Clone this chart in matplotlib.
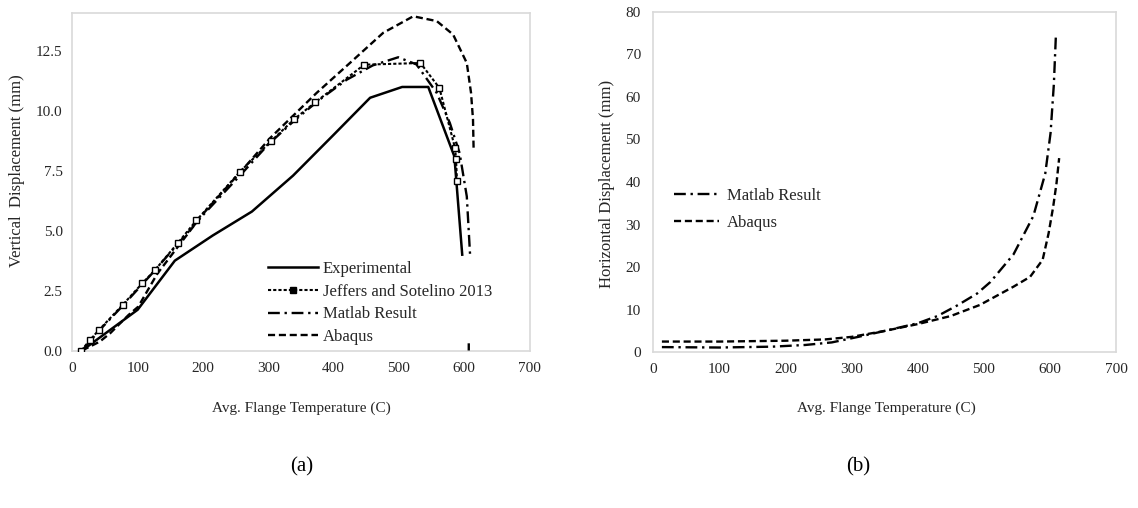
import matplotlib
matplotlib.use("Agg")
import matplotlib.pyplot as plt
from matplotlib.lines import Line2D
import numpy as np

plt.rcParams['font.family'] = ['Liberation Serif', 'DejaVu Serif']

# ---------------- data: (a) vertical displacement ----------------
exp_T = [15, 100, 157, 215, 275, 338, 400, 456, 505, 545, 585, 597]
exp_V = [0.0, 1.7, 3.75, 4.8, 5.8, 7.3, 9.0, 10.55, 11.0, 11.0, 8.1, 4.0]

jef_T = [14, 27, 41, 77, 107, 126, 162, 190, 257, 304, 340, 372, 447, 533, 562, 586, 587.5, 589]
jef_V = [0.0, 0.44, 0.86, 1.9, 2.8, 3.34, 4.5, 5.43, 7.47, 8.73, 9.66, 10.36, 11.93, 12.0, 10.96, 8.45, 8.0, 7.06]

mat_T = [15, 40, 80, 120, 160, 200, 260, 300, 340, 380, 420, 460, 499, 527, 558, 578, 593, 604, 609, np.nan, 607, 607]
mat_V = [0.0, 0.8, 1.95, 3.15, 4.4, 5.65, 7.4, 8.6, 9.6, 10.5, 11.3, 11.9, 12.24, 11.94, 10.75, 9.5, 8.24, 6.43, 4.0, np.nan, 0.3, 0.0]

aba_T = [15, 42, 58, 86, 101, 130, 200, 272, 303, 374, 425, 476, 522, 558, 583, 604, 610.5, 613.5, 614.5]
aba_V = [0.0, 0.37, 0.72, 1.48, 1.83, 3.2, 5.7, 7.9, 8.87, 10.75, 12.0, 13.26, 13.95, 13.75, 13.19, 12.0, 10.75, 9.64, 8.31]

# ---------------- data: (b) horizontal displacement ----------------
matH_T = [13, 100, 180, 230, 270, 310, 350, 400, 430, 460, 490, 510, 545, 575, 593, 601, 606, 609]
matH_H = [1.2, 1.1, 1.3, 1.7, 2.3, 3.6, 5.0, 6.8, 8.5, 11.0, 13.8, 16.5, 23.0, 32.0, 42.0, 51.5, 63.0, 74.2]

abaH_T = [13, 100, 200, 260, 300, 350, 400, 450, 494, 545, 570, 589, 598, 605, 610, 614]
abaH_H = [2.5, 2.5, 2.7, 3.0, 3.6, 5.0, 6.6, 8.5, 11.1, 15.4, 17.7, 21.7, 27.9, 34.2, 39.7, 45.6]

left_xticks = [0, 100, 200, 300, 400, 500, 600, 700]
left_yticks = [0.0, 2.5, 5.0, 7.5, 10.0, 12.5]
right_yticks = [0, 10, 20, 30, 40, 50, 60, 70, 80]

# ---------------- styles ----------------
TXT = '#262626'
FRAME = '#d9d9d9'
DASH = (0, (3, 1.6))
DASHDOT = (0, (5, 2, 1, 2))
DOT = (0, (1.5, 1))

W, H = 1138, 508
fig = plt.figure(figsize=(W / 100, H / 100), dpi=100)

def style_axes(ax):
    for s in ax.spines.values():
        s.set_color(FRAME)
        s.set_linewidth(1.2)
    ax.tick_params(length=0, labelsize=11, labelcolor=TXT)
    ax.tick_params(axis='x', pad=8)
    ax.tick_params(axis='y', pad=7)

# (a)
axA = fig.add_axes([72.3 / W, 1 - 350.5 / H, (529.5 - 72.3) / W, (350.5 - 12.7) / H])
axA.plot(exp_T, exp_V, color='black', lw=1.8, ls='-', zorder=3)
axA.plot(mat_T, mat_V, color='black', lw=1.7, ls=DASHDOT, zorder=3)
axA.plot(aba_T, aba_V, color='black', lw=1.7, ls=DASH, zorder=3)
axA.plot(jef_T, jef_V, color='black', lw=1.5, ls=DOT, marker='s', ms=4.5,
         mfc='white', mec='black', mew=1.0, zorder=4)
axA.set_xlim(0, 700)
axA.set_ylim(0, 14.1)
axA.set_xticks(left_xticks)
axA.set_yticks(left_yticks)
axA.set_yticklabels([f"{v:.1f}" for v in left_yticks])
style_axes(axA)

hA = [Line2D([], [], color='black', lw=1.8, ls='-'),
      Line2D([], [], color='black', lw=1.5, ls=DOT, marker='s', ms=5, mfc='black', mec='black'),
      Line2D([], [], color='black', lw=1.7, ls=DASHDOT),
      Line2D([], [], color='black', lw=1.7, ls=DASH)]
fig.legend(hA, ['Experimental', 'Jeffers and Sotelino 2013', 'Matlab Result', 'Abaqus'],
           loc='upper left', bbox_to_anchor=(268 / W, 1 - 261 / H), frameon=False,
           fontsize=12, borderpad=0, borderaxespad=0, handlelength=3.0, handletextpad=0.3,
           labelspacing=0.40, labelcolor=TXT)

# (b)
axB = fig.add_axes([653.3 / W, 1 - 352.2 / H, (1116 - 653.3) / W, (352.2 - 11.7) / H])
axB.plot(matH_T, matH_H, color='black', lw=1.7, ls=DASHDOT)
axB.plot(abaH_T, abaH_H, color='black', lw=1.7, ls=DASH)
axB.set_xlim(0, 700)
axB.set_ylim(0, 80)
axB.set_xticks(left_xticks)
axB.set_yticks(right_yticks)
style_axes(axB)
axB.tick_params(axis='y', pad=9)

hB = [Line2D([], [], color='black', lw=1.7, ls=DASHDOT),
      Line2D([], [], color='black', lw=1.7, ls=DASH)]
fig.legend(hB, ['Matlab Result', 'Abaqus'],
           loc='upper left', bbox_to_anchor=(674 / W, 1 - 188 / H), frameon=False,
           fontsize=12, borderpad=0, borderaxespad=0, handlelength=2.7, handletextpad=0.48,
           labelspacing=0.68, labelcolor=TXT)

# axis labels
fig.text(17 / W, 1 - 171 / H, 'Vertical  Displacement (mm)', rotation=90,
         ha='center', va='center', fontsize=12, color=TXT)
fig.text(301 / W, 1 - 408 / H, 'Avg. Flange Temperature (C)',
         ha='center', va='center', fontsize=11, color=TXT)
fig.text(607 / W, 1 - 183.5 / H, 'Horizontal Displacement (mm)', rotation=90,
         ha='center', va='center', fontsize=12, color=TXT)
fig.text(886 / W, 1 - 408 / H, 'Avg. Flange Temperature (C)',
         ha='center', va='center', fontsize=11, color=TXT)

fig.text(302 / W, 1 - 467 / H, '(a)', ha='center', va='center', fontsize=15, color='black')
fig.text(858 / W, 1 - 467 / H, '(b)', ha='center', va='center', fontsize=15, color='black')

fig.savefig('out.png', dpi=100, facecolor='white')
